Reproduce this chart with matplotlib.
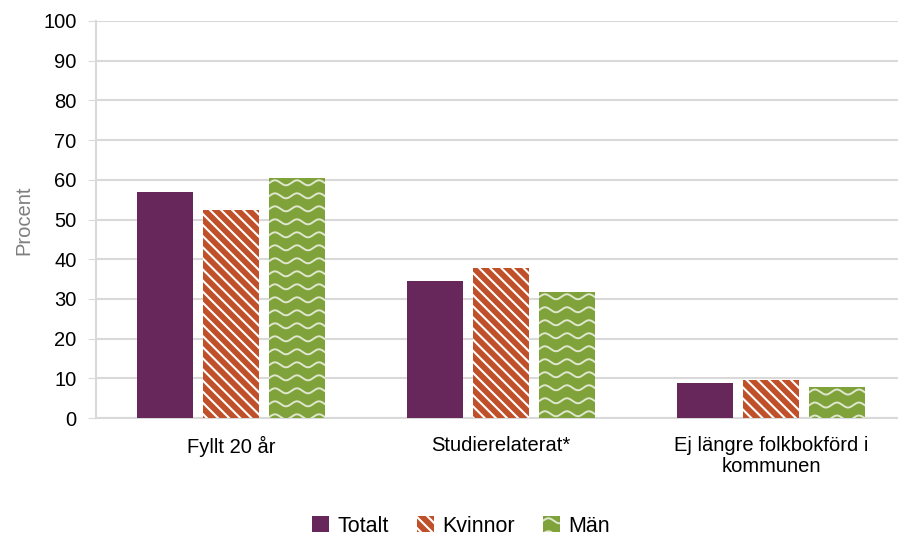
import numpy as np
import matplotlib
matplotlib.use("Agg")
import matplotlib.pyplot as plt
from matplotlib.lines import Line2D
from matplotlib.transforms import IdentityTransform

plt.rcParams['font.family'] = ['Liberation Sans', 'DejaVu Sans']
plt.rcParams['hatch.linewidth'] = 1.5

# data
kategorier = ["Fyllt 20 år", "Studierelaterat*", "Ej längre folkbokförd i\nkommunen"]
totalt = [56.9, 34.5, 8.7]
kvinnor = [52.4, 37.8, 9.6]
man = [60.5, 31.8, 7.8]
serier = ["Totalt", "Kvinnor", "Män"]

c_tot = "#68275A"
c_kv = "#C0502A"
c_man = "#7FA23A"

fig = plt.figure(figsize=(8.98, 5.40), dpi=100)
ax = fig.add_axes([96/898, 122/540, 810/898, 397/540])

x = np.arange(len(kategorier))
w = 0.207
d = 0.246
b1 = ax.bar(x - d, totalt, w, color=c_tot, label=serier[0], zorder=3)
b2 = ax.bar(x, kvinnor, w, color=c_kv, edgecolor="white", linewidth=0,
            hatch="\\\\\\", label=serier[1], zorder=3)
b3 = ax.bar(x + d, man, w, color=c_man, linewidth=0, label=serier[2], zorder=3)

ax.set_xlim(-0.5, 2.5)
ax.set_ylim(0, 100)
ax.set_yticks(range(0, 101, 10))
ax.set_xticks(x)
ax.set_xticklabels(kategorier, fontsize=14.5, linespacing=1.12)
ax.tick_params(axis="y", labelsize=14.5, length=6, color="#D9D9D9", pad=8)
ax.tick_params(axis="x", length=0, pad=13)
ax.grid(axis="y", color="#D9D9D9", linewidth=1.5, zorder=0)
for s in ["top", "right"]:
    ax.spines[s].set_visible(False)
ax.spines["left"].set_color("#D9D9D9")
ax.spines["left"].set_linewidth(1.5)
ax.spines["bottom"].set_color("#D9D9D9")
ax.spines["bottom"].set_linewidth(1.5)
ax.set_ylabel("Procent", fontsize=14.5, color="#7F7F7F")
ax.yaxis.set_label_coords(33/898, (540 - 220)/540, transform=fig.transFigure)

leg = ax.legend(loc="center", bbox_to_anchor=(461/898, (540 - 526)/540),
                bbox_transform=fig.transFigure, ncol=3, frameon=False,
                fontsize=15.5, handlelength=0.8, handleheight=0.8,
                handletextpad=0.38, columnspacing=1.3)

fig.canvas.draw()


def vagor(patch):
    # vita vågiga linjer inuti gröna staplar
    bb = patch.get_window_extent()
    xs = np.linspace(bb.x0 - 5, bb.x1 + 5, 200)
    y = bb.y1 - 5
    while y > bb.y0 - 8:
        ys = y + 2.5 * np.sin(2 * np.pi * (xs - bb.x0) / 22.0)
        ln = Line2D(xs, ys, transform=IdentityTransform(), color="white",
                    linewidth=1.4, alpha=0.75, zorder=4)
        ln.set_clip_path(patch)
        fig.add_artist(ln)
        y -= 13


for p in b3:
    vagor(p)
for p in leg.get_patches()[2:]:
    vagor(p)

fig.savefig("out.png", dpi=100)
